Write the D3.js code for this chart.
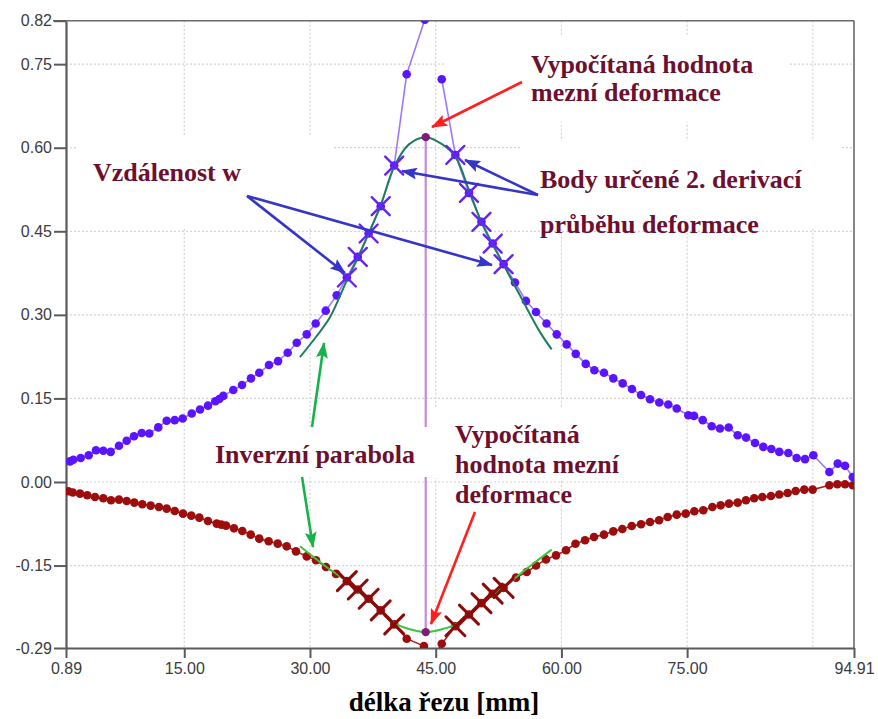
<!DOCTYPE html>
<html>
<head>
<meta charset="utf-8">
<script src="https://cdn.jsdelivr.net/npm/d3@7"></script>
<style>
  html, body { margin: 0; padding: 0; background: #fff; }
  svg { display: block; }
</style>
</head>
<body>
<svg id="chart" width="878" height="719"></svg>
<script>
// Major strain along the section (upper series) and minor strain (lower series)
const blueX = [1.37,1.76,2.64,3.60,4.47,5.34,6.22,7.21,8.13,9.00,9.92,10.83,11.90,12.90,13.86,14.81,15.89,16.88,17.83,18.70,19.18,19.66,20.85,21.89,22.96,23.95,25.11,26.19,27.34,28.42,29.61,30.68,31.88,33.19,34.4,35.7,37.0,38.44,40.05,41.54,43.7,44.7,45.72,47.35,48.97,50.46,51.8,53.1,54.46,55.77,56.97,58.22,59.44,60.63,61.71,62.90,63.93,65.08,66.19,67.31,68.42,69.50,70.57,71.68,72.75,73.76,75.14,75.82,76.86,77.93,78.92,79.96,81.03,82.03,83.10,84.09,85.05,86.00,87.07,88.07,89.07,90.06,91.97,92.97,93.84,94.76];
const blueY = [0.037,0.040,0.043,0.048,0.057,0.056,0.054,0.065,0.074,0.082,0.088,0.087,0.098,0.110,0.111,0.114,0.123,0.130,0.137,0.145,0.149,0.1545,0.165,0.174,0.186,0.196,0.210,0.217,0.232,0.250,0.265,0.2845,0.3075,0.335,0.367,0.404,0.446,0.495,0.568,0.732,0.83,null,0.723,0.587,0.519,0.467,0.428,0.391,0.358,0.325,0.305,0.2845,0.265,0.247,0.230,0.212,0.2006,0.196,0.186,0.177,0.167,0.156,0.1486,0.1426,0.139,0.132,0.1198,0.1186,0.111,0.100,0.096,0.0977,0.084,0.0797,0.070,0.063,0.0593,0.054,0.052,0.043,0.041,0.048,0.018,0.033,0.029,0.009];

const redX = [1.16,1.69,2.56,3.43,4.35,5.34,6.26,7.21,8.13,9.04,9.99,10.99,11.98,12.90,13.86,14.85,15.84,16.80,17.83,18.87,19.42,19.98,20.93,21.93,22.93,23.95,25.07,26.15,27.22,28.33,29.61,30.72,31.91,33.11,34.4,35.7,37.0,38.44,40.05,41.54,43.6,44.7,45.72,47.35,48.97,50.46,51.8,53.1,54.58,55.86,56.97,58.16,59.36,60.55,61.68,62.82,63.89,65.08,66.19,67.27,68.39,69.50,70.57,71.65,72.68,73.76,74.83,75.86,76.93,78.01,79.00,79.99,81.03,82.02,83.00,83.97,85.00,85.99,86.99,87.95,88.98,89.98,91.97,92.92,93.84,94.76];
const redY = [-0.0167,-0.019,-0.0209,-0.0239,-0.027,-0.0293,-0.0329,-0.0316,-0.0341,-0.037,-0.040,-0.0424,-0.0449,-0.0478,-0.052,-0.0568,-0.0604,-0.064,-0.070,-0.0747,-0.0765,-0.0783,-0.0832,-0.088,-0.0945,-0.1017,-0.1065,-0.1107,-0.1155,-0.1245,-0.1335,-0.1406,-0.1527,-0.165,-0.178,-0.193,-0.2095,-0.2305,-0.2556,-0.2813,-0.2946,-0.315,-0.2903,-0.259,-0.238,-0.2174,-0.2005,-0.19,-0.1717,-0.1617,-0.150,-0.139,-0.1317,-0.1225,-0.111,-0.1047,-0.0988,-0.0945,-0.0886,-0.0844,-0.079,-0.076,-0.0718,-0.0688,-0.0629,-0.0586,-0.0568,-0.0526,-0.0508,-0.0449,-0.0419,-0.0388,-0.037,-0.0329,-0.0293,-0.027,-0.0251,-0.0226,-0.0198,-0.0162,-0.0137,-0.0137,-0.0059,-0.0041,-0.0041,-0.0059];

// Points picked by the second derivative of the strain course
const derivX = [34.4,35.7,37.0,38.44,40.05,47.35,48.97,50.46,51.8,53.1];

// Fitted inverse parabolas
const upperFitX = [28.8,30.8,32.4,34.4,35.7,37.0,38.44,40.05,41.8,43.81,45.8,47.35,48.97,50.46,51.8,53.1,55.3,57.45,58.84];
const upperFitY = [0.224,0.262,0.296,0.362,0.402,0.446,0.497,0.566,0.606,0.619,0.606,0.584,0.524,0.466,0.426,0.390,0.328,0.269,0.238];
const lowerFitX = [28.81,32.0,34.4,35.7,37.0,38.44,40.05,41.8,43.81,45.8,47.35,48.97,50.46,51.8,53.1,54.6,56.7,58.84];
const lowerFitY = [-0.1155,-0.153,-0.178,-0.195,-0.211,-0.231,-0.253,-0.264,-0.2695,-0.264,-0.256,-0.238,-0.218,-0.203,-0.19,-0.171,-0.146,-0.1214];

// Calculated forming limit (vertex of both fits)
const limitX = 43.81;
const limitUpper = 0.619;
const limitLower = -0.2695;

// Axes
const xDomain = [0.89, 94.91];
const yDomain = [-0.298, 0.828];
const xTickValues = [0.89, 15, 30, 45, 60, 75, 94.91];
const xTickLabels = ["0.89", "15.00", "30.00", "45.00", "60.00", "75.00", "94.91"];
const xGridValues = [15, 30, 45, 60, 75, 90];
const yTickValues = [-0.298, -0.15, 0, 0.15, 0.30, 0.45, 0.60, 0.75, 0.828];
const yTickLabels = ["-0.29", "-0.15", "0.00", "0.15", "0.30", "0.45", "0.60", "0.75", "0.82"];
const yGridValues = [-0.15, 0, 0.15, 0.30, 0.45, 0.60, 0.75];

const svg = d3.select("#chart");
const pLeft = 66, pRight = 854, pTop = 20.7, pBottom = 648;

const x = d3.scaleLinear().domain(xDomain).range([pLeft, pRight]);
const y = d3.scaleLinear().domain(yDomain).range([pBottom, pTop]);

const defs = svg.append("defs");
defs.append("clipPath").attr("id", "plotClip")
  .append("rect").attr("x", pLeft).attr("y", pTop)
  .attr("width", pRight - pLeft).attr("height", pBottom - pTop);

function arrowHead(id, color) {
  defs.append("marker").attr("id", id)
    .attr("viewBox", "0 0 16 12").attr("refX", 15).attr("refY", 6)
    .attr("markerWidth", 16).attr("markerHeight", 12)
    .attr("markerUnits", "userSpaceOnUse").attr("orient", "auto")
    .append("path").attr("d", "M0,0 L16,6 L0,12 L3,6 Z").attr("fill", color);
}
arrowHead("ahRed", "#ff1f1f");
arrowHead("ahBlue", "#3535c8");
arrowHead("ahGreen", "#18b24a");

// Grid
const grid = svg.append("g").attr("class", "grid");
grid.selectAll("line.gx").data(xGridValues).join("line")
  .attr("x1", d => x(d)).attr("x2", d => x(d)).attr("y1", pTop).attr("y2", pBottom)
  .attr("stroke", "#d4d4d4").attr("stroke-width", 1.2).attr("stroke-dasharray", "2,2");
grid.selectAll("line.gy").data(yGridValues).join("line")
  .attr("x1", pLeft).attr("x2", pRight).attr("y1", d => y(d)).attr("y2", d => y(d))
  .attr("stroke", "#d4d4d4").attr("stroke-width", 1.2).attr("stroke-dasharray", "2,2");

// Limit line between the two vertices
svg.append("line")
  .attr("x1", x(limitX)).attr("x2", x(limitX))
  .attr("y1", y(limitUpper)).attr("y2", y(limitLower))
  .attr("stroke", "#c78ad6").attr("stroke-width", 2.2);

// White label backgrounds
const boxes = [
  [77, 137, 256, 91],
  [445, 36, 345, 86],
  [520, 141, 320, 88],
  [200, 427, 230, 50],
  [432, 408, 250, 70]
];
svg.append("g").selectAll("rect").data(boxes).join("rect")
  .attr("x", d => d[0]).attr("y", d => d[1]).attr("width", d => d[2]).attr("height", d => d[3])
  .attr("fill", "#fff");

// Frame and axes
svg.append("line").attr("x1", 53).attr("x2", pRight).attr("y1", pTop).attr("y2", pTop)
  .attr("stroke", "#6a6a6a").attr("stroke-width", 1.6);
svg.append("line").attr("x1", pRight).attr("x2", pRight).attr("y1", pTop).attr("y2", pBottom)
  .attr("stroke", "#6a6a6a").attr("stroke-width", 1.6);

const yAxis = svg.append("g").attr("transform", `translate(${pLeft},0)`)
  .call(d3.axisLeft(y).tickValues(yTickValues).tickFormat((d, i) => yTickLabels[i]).tickSize(12).tickPadding(2).tickSizeOuter(0));
const xAxis = svg.append("g").attr("transform", `translate(0,${pBottom})`)
  .call(d3.axisBottom(x).tickValues(xTickValues).tickFormat((d, i) => xTickLabels[i]).tickSize(10).tickPadding(5).tickSizeOuter(0));
[yAxis, xAxis].forEach(g => {
  g.select(".domain").attr("stroke", "#5a5a5a").attr("stroke-width", 2.2);
  g.selectAll(".tick line").attr("stroke", "#5a5a5a").attr("stroke-width", 2);
  g.selectAll(".tick text").attr("fill", "#3c3c3c").attr("font-size", 16)
    .attr("font-family", "'Liberation Sans', Arial, sans-serif");
});

// Series
const plot = svg.append("g").attr("clip-path", "url(#plotClip)");
const blue = blueX.map((v, i) => ({ x: v, y: blueY[i] }));
const red = redX.map((v, i) => ({ x: v, y: redY[i] }));
const line = d3.line().defined(d => d.y !== null).x(d => x(d.x)).y(d => y(d.y));
const smooth = d3.line().x(d => x(d.x)).y(d => y(d.y)).curve(d3.curveCatmullRom.alpha(0.5));

plot.append("path").datum(blue).attr("d", line).attr("fill", "none")
  .attr("stroke", "#9a78ff").attr("stroke-width", 1.6);
plot.append("path").datum(red).attr("d", line).attr("fill", "none")
  .attr("stroke", "#b02020").attr("stroke-width", 1.6);

plot.selectAll("circle.b").data(blue.filter(d => d.y !== null)).join("circle")
  .attr("cx", d => x(d.x)).attr("cy", d => y(d.y)).attr("r", 4.3).attr("fill", "#5a14ff");
plot.selectAll("circle.r").data(red).join("circle")
  .attr("cx", d => x(d.x)).attr("cy", d => y(d.y)).attr("r", 4.3).attr("fill", "#9e0d0d");

// Fitted curves
plot.append("path").datum(upperFitX.map((v, i) => ({ x: v, y: upperFitY[i] })))
  .attr("d", smooth).attr("fill", "none").attr("stroke", "#1f7d5e").attr("stroke-width", 2);
plot.append("path").datum(lowerFitX.map((v, i) => ({ x: v, y: lowerFitY[i] })))
  .attr("d", smooth).attr("fill", "none").attr("stroke", "#3cc43c").attr("stroke-width", 2);

// Derivative points as crosses
function crosses(series, color, size, width) {
  const pts = derivX.map(v => series.find(d => d.x === v));
  plot.append("g").selectAll("path").data(pts).join("path")
    .attr("d", d => {
      const cx = x(d.x), cy = y(d.y);
      return `M${cx - size},${cy - size}L${cx + size},${cy + size}M${cx - size},${cy + size}L${cx + size},${cy - size}`;
    })
    .attr("stroke", color).attr("stroke-width", width).attr("stroke-linecap", "round");
}
crosses(blue, "#6424f2", 9, 2.4);
crosses(red, "#8c0a0a", 9.5, 3);

// Limit points
plot.selectAll("circle.lim").data([limitUpper, limitLower]).join("circle")
  .attr("cx", x(limitX)).attr("cy", d => y(d)).attr("r", 4.2).attr("fill", "#7d1d7d");

// Annotations
const ann = svg.append("g");
function arrow(x1, y1, x2, y2, color, id) {
  ann.append("line").attr("x1", x1).attr("y1", y1).attr("x2", x2).attr("y2", y2)
    .attr("stroke", color).attr("stroke-width", 2.6).attr("marker-end", `url(#${id})`);
}
arrow(522, 82, 432, 127, "#ff1f1f", "ahRed");
arrow(475, 512, 431, 624, "#ff1f1f", "ahRed");
arrow(247, 196, 345, 273, "#3535c8", "ahBlue");
arrow(247, 196, 492, 265, "#3535c8", "ahBlue");
arrow(538, 195, 465, 160, "#3535c8", "ahBlue");
arrow(538, 195, 402, 171, "#3535c8", "ahBlue");
arrow(312, 427, 324, 343, "#18b24a", "ahGreen");
arrow(302, 477, 313, 547, "#18b24a", "ahGreen");

const labels = [
  { t: "Vypočítaná hodnota", x: 531, y: 73 },
  { t: "mezní deformace", x: 531, y: 101 },
  { t: "Vzdálenost w", x: 93, y: 181 },
  { t: "Body určené 2. derivací", x: 540, y: 188 },
  { t: "průběhu deformace", x: 540, y: 233 },
  { t: "Inverzní parabola", x: 215, y: 463 },
  { t: "Vypočítaná", x: 455, y: 443 },
  { t: "hodnota mezní", x: 455, y: 473 },
  { t: "deformace", x: 455, y: 503 }
];
ann.selectAll("text").data(labels).join("text")
  .attr("x", d => d.x).attr("y", d => d.y).text(d => d.t)
  .attr("font-family", "'Liberation Serif', 'Times New Roman', serif")
  .attr("font-weight", "bold").attr("font-size", 26).attr("fill", "#6d1030");

// Axis title
svg.append("text").attr("x", 444).attr("y", 711).attr("text-anchor", "middle")
  .attr("font-family", "'Liberation Serif', 'Times New Roman', serif")
  .attr("font-weight", "bold").attr("font-size", 27).attr("fill", "#000")
  .text("délka řezu [mm]");
</script>
</body>
</html>
